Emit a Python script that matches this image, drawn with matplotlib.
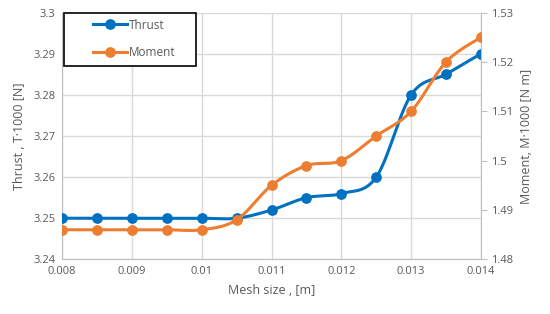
import numpy as np
import matplotlib.pyplot as plt
from matplotlib.patches import Rectangle

# data
MESH = [0.008, 0.0085, 0.009, 0.0095, 0.010, 0.0105, 0.011, 0.0115, 0.012, 0.0125, 0.013, 0.0135, 0.014]
THRUST = [3.250, 3.250, 3.250, 3.250, 3.250, 3.250, 3.252, 3.255, 3.256, 3.260, 3.280, 3.285, 3.290]
MOMENT = [1.486, 1.486, 1.486, 1.486, 1.486, 1.488, 1.495, 1.499, 1.500, 1.505, 1.510, 1.520, 1.525]

X_TICKS = [0.008, 0.009, 0.010, 0.011, 0.012, 0.013, 0.014]
X_LABELS = ['0.008', '0.009', '0.01', '0.011', '0.012', '0.013', '0.014']
T_TICKS = [3.24, 3.25, 3.26, 3.27, 3.28, 3.29, 3.30]
T_LABELS = ['3.24', '3.25', '3.26', '3.27', '3.28', '3.29', '3.3']
M_TICKS = [1.48, 1.49, 1.50, 1.51, 1.52, 1.53]
M_LABELS = ['1.48', '1.49', '1.5', '1.51', '1.52', '1.53']

BLUE = '#0070C0'
ORANGE = '#ED7D31'
GREY = '#595959'
GRID = '#D9D9D9'
AXIS = '#BFBFBF'

plt.rcParams['font.family'] = ['Open Sans', 'DejaVu Sans']


def smooth(x, y, n=30):
    """Catmull-Rom style smoothing (like Excel's smoothed line)."""
    x = np.asarray(x, float); y = np.asarray(y, float)
    px = np.concatenate([[x[0]], x, [x[-1]]])
    py = np.concatenate([[y[0]], y, [y[-1]]])
    xs, ys = [], []
    t = np.linspace(0, 1, n)
    for i in range(1, len(px) - 2):
        p0, p1, p2, p3 = (np.array([px[k], py[k]]) for k in (i - 1, i, i + 1, i + 2))
        c1 = p1 + (p2 - p0) / 6
        c2 = p2 - (p3 - p1) / 6
        b = ((1 - t) ** 3)[:, None] * p1 + (3 * (1 - t) ** 2 * t)[:, None] * c1 \
            + (3 * (1 - t) * t ** 2)[:, None] * c2 + (t ** 3)[:, None] * p2
        xs.append(b[:, 0]); ys.append(b[:, 1])
    return np.concatenate(xs), np.concatenate(ys)


fig = plt.figure(figsize=(5.5, 3.14), dpi=100)
ax = fig.add_axes([0.113, 0.174, 0.7615, 0.786])
ax2 = ax.twinx()

ax.set_xlim(0.008, 0.014)
ax.set_ylim(3.24, 3.30)
ax2.set_ylim(1.48, 1.53)

ax.grid(True, color=GRID, lw=1)
ax.set_axisbelow(True)

sx, sy = smooth(MESH, THRUST)
ax.plot(sx, sy, color=BLUE, lw=2.2, zorder=3)
ax.plot(MESH, THRUST, 'o', color=BLUE, ms=6.7, zorder=4)

mx, my = smooth(MESH, MOMENT)
ax2.plot(mx, my, color=ORANGE, lw=2.2, zorder=3)
ax2.plot(MESH, MOMENT, 'o', color=ORANGE, ms=6.7, zorder=4)

ax.set_xticks(X_TICKS); ax.set_xticklabels(X_LABELS)
ax.set_yticks(T_TICKS); ax.set_yticklabels(T_LABELS)
ax2.set_yticks(M_TICKS); ax2.set_yticklabels(M_LABELS)

for a in (ax, ax2):
    for s in a.spines.values():
        s.set_visible(False)
    a.tick_params(colors=GREY, labelsize=8, length=0, pad=5)
ax.spines['left'].set_visible(True)
ax.spines['left'].set_color(AXIS)
ax.spines['bottom'].set_visible(True)
ax.spines['bottom'].set_color(AXIS)
ax2.spines['right'].set_visible(True)
ax2.spines['right'].set_color(AXIS)
ax2.tick_params(axis='y', length=4, color=AXIS, pad=3)

ax.set_xlabel('Mesh size , [m]', color=GREY, fontsize=9, labelpad=5)
ax.set_ylabel('Thrust , T·1000 [N]', color=GREY, fontsize=9, labelpad=5)
ax2.set_ylabel('Moment, M·1000 [N m]', color=GREY, fontsize=9, labelpad=5)

# legend: black square frame with entries set in from the left
ax2.add_patch(Rectangle((0.0044, 0.783), 0.315, 0.217, transform=ax2.transAxes,
                        facecolor='white', edgecolor='black', lw=1.2,
                        zorder=9, clip_on=False))
h1 = plt.Line2D([], [], color=BLUE, lw=2.2, marker='o', ms=6.7)
h2 = plt.Line2D([], [], color=ORANGE, lw=2.2, marker='o', ms=6.7)
leg = ax2.legend([h1, h2], ['Thrust', 'Moment'], loc='upper left',
                 bbox_to_anchor=(0.068, 0.985), frameon=False, fontsize=8.5,
                 labelspacing=1.25, handlelength=2.9, handletextpad=0.15,
                 borderpad=0.2, borderaxespad=0)
for txt in leg.get_texts():
    txt.set_color(GREY)
leg.set_zorder(10)

fig.savefig('out.png', dpi=100)
